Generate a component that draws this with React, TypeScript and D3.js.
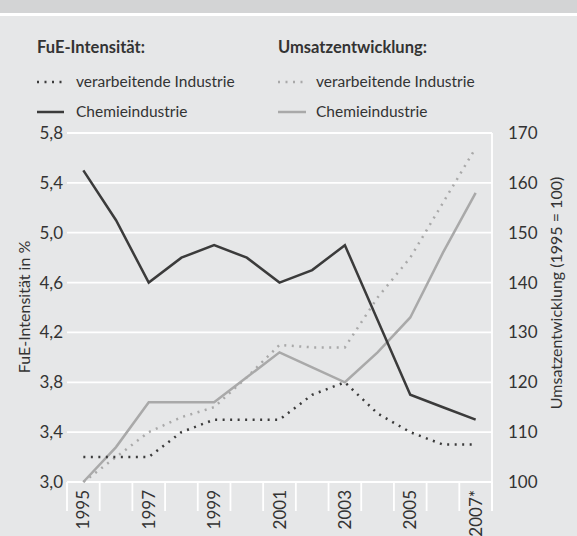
import React from 'react';
import * as d3 from 'd3';

const years = ['1995', '1996', '1997', '1998', '1999', '2000', '2001', '2002', '2003', '2004', '2005', '2006', '2007'];
const yearLabels = ['1995', '', '1997', '', '1999', '', '2001', '', '2003', '', '2005', '', '2007*'];

// FuE-Intensität in % (left axis)
const fueVerarbeitend = [3.2, 3.2, 3.2, 3.4, 3.5, 3.5, 3.5, 3.7, 3.8, 3.55, 3.4, 3.3, 3.3];
const fueChemie = [5.5, 5.1, 4.6, 4.8, 4.9, 4.8, 4.6, 4.7, 4.9, 4.3, 3.7, 3.6, 3.5];

// Umsatzentwicklung 1995 = 100 (right axis)
const umsatzVerarbeitend = [100, 105, 110, 113, 115, 121, 127.5, 127, 127, 137, 145, 156, 167];
const umsatzChemie = [100, 107, 116, 116, 116, 121, 126, 123, 120, 126, 133, 146, 158];

const leftTicks = [3.0, 3.4, 3.8, 4.2, 4.6, 5.0, 5.4, 5.8];
const rightTicks = [100, 110, 120, 130, 140, 150, 160, 170];

const W = 577;
const H = 536;
const bg = '#e6e7e8';
const dark = '#3b3b3b';
const light = '#a9a9a9';
const txt = '#333';
const font = 'Lato, "Noto Sans", sans-serif';

const margin = { left: 67, right: 492, top: 133, bottom: 482 };

export default function App() {
  const x = d3.scaleBand<string>().domain(years).range([margin.left, margin.right]);
  const cx = (i: number) => (x(years[i]) as number) + x.bandwidth() / 2;
  const yL = d3.scaleLinear().domain([3.0, 5.8]).range([margin.bottom, margin.top]);
  const yR = d3.scaleLinear().domain([100, 170]).range([margin.bottom, margin.top]);

  const lineL = d3.line<number>().x((d, i) => cx(i)).y(d => yL(d));
  const lineR = d3.line<number>().x((d, i) => cx(i)).y(d => yR(d));

  const bounds = years.map(y => x(y) as number).concat([margin.right]);

  return (
    <svg width={W} height={H} style={{ position: 'absolute', left: 0, top: 0 }} fontFamily={font}>
      <rect width={W} height={H} fill={bg} />
      <rect width={W} height={13} fill="#d3d4d5" />
      <rect y={13} width={W} height={3} fill="#fff" />

      {/* legend */}
      <g fill={txt} fontSize={15.5}>
        <text x={37} y={53} fontSize={16.5} fontWeight="bold">FuE-Intensität:</text>
        <text x={278} y={53} fontSize={16.5} fontWeight="bold">Umsatzentwicklung:</text>
        <line x1={37} x2={62} y1={82} y2={82} stroke={dark} strokeWidth={2.5} strokeDasharray="2,5.5" />
        <text x={76} y={87}>verarbeitende Industrie</text>
        <line x1={37} x2={64} y1={112} y2={112} stroke={dark} strokeWidth={2.5} />
        <text x={76} y={117}>Chemieindustrie</text>
        <line x1={278} x2={303} y1={82} y2={82} stroke={light} strokeWidth={2.5} strokeDasharray="2,5.5" />
        <text x={316} y={87}>verarbeitende Industrie</text>
        <line x1={278} x2={306} y1={112} y2={112} stroke={light} strokeWidth={2.5} />
        <text x={316} y={117}>Chemieindustrie</text>
      </g>

      {/* grid */}
      {leftTicks.map(t => (
        <line key={t} x1={margin.left} x2={margin.right} y1={yL(t)} y2={yL(t)} stroke="#fff" strokeWidth={1.8} />
      ))}
      <line x1={margin.right} x2={margin.right} y1={margin.top} y2={511} stroke="#fff" strokeWidth={1.8} />
      {bounds.map((b, i) => (
        <line key={i} x1={b} x2={b} y1={margin.bottom} y2={511} stroke="#fff" strokeWidth={1.8} />
      ))}

      {/* axis labels */}
      <g fill={txt} fontSize={17} textAnchor="end">
        {leftTicks.map(t => (
          <text key={t} x={63} y={yL(t) + 6}>{d3.format('.1f')(t).replace('.', ',')}</text>
        ))}
      </g>
      <g fill={txt} fontSize={17} textAnchor="start">
        {rightTicks.map(t => (
          <text key={t} x={508} y={yR(t) + 6}>{t}</text>
        ))}
      </g>
      <text transform="translate(30,307) rotate(-90)" textAnchor="middle" fill={txt} fontSize={16}>FuE-Intensität in %</text>
      <text transform="translate(562,293) rotate(-90)" textAnchor="middle" fill={txt} fontSize={16}>Umsatzentwicklung (1995 = 100)</text>

      {/* x labels */}
      <g fill={txt} fontSize={17} textAnchor="end">
        {years.map((y, i) => yearLabels[i] ? (
          <text key={y} transform={`translate(${cx(i) + 6},490) rotate(-90)`}>{yearLabels[i]}</text>
        ) : null)}
      </g>

      {/* series */}
      <path d={lineR(umsatzVerarbeitend) as string} fill="none" stroke={light} strokeWidth={2.5} strokeDasharray="2,5.5" />
      <path d={lineR(umsatzChemie) as string} fill="none" stroke={light} strokeWidth={2.5} />
      <path d={lineL(fueVerarbeitend) as string} fill="none" stroke={dark} strokeWidth={2.5} strokeDasharray="2,5.5" />
      <path d={lineL(fueChemie) as string} fill="none" stroke={dark} strokeWidth={2.5} />
    </svg>
  );
}
